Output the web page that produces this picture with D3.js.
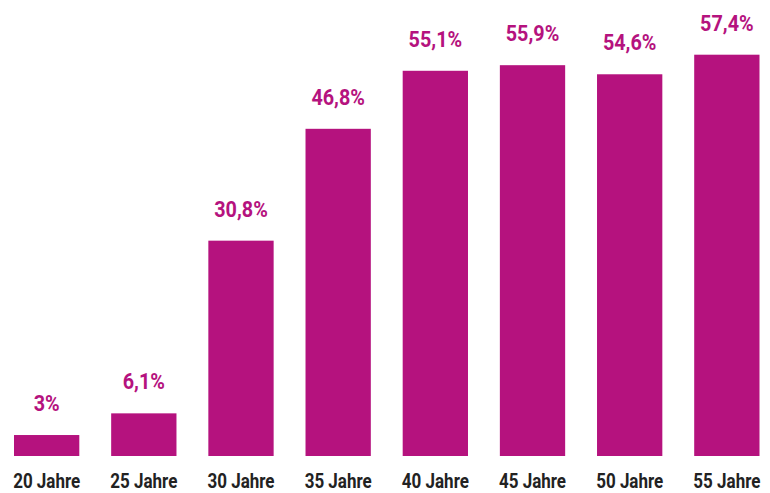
<!DOCTYPE html>
<html>
<head>
<meta charset="utf-8">
<script src="https://cdn.jsdelivr.net/npm/d3@7"></script>
<style>
	body { margin: 0; background: #fff; }
	svg text { font-family: Roboto, "Open Sans", sans-serif; font-weight: bold; }
</style>
</head>
<body>
<div id="chart"></div>
<script>
// ages on the x axis and share in percent
const ages = ["20 Jahre", "25 Jahre", "30 Jahre", "35 Jahre", "40 Jahre", "45 Jahre", "50 Jahre", "55 Jahre"]
const values = [3, 6.1, 30.8, 46.8, 55.1, 55.9, 54.6, 57.4]

const width = 770
const height = 493
const magenta = "#b5127e"

const svg = d3.select("#chart")
	.append("svg")
	.attr("width", width)
	.attr("height", height)

const data = ages.map((a, i) => ({age: a, value: values[i]}))

const x = d3.scaleBand()
	.domain(ages)
	.range([14, 759.5])
	.paddingInner(0.328)
	.paddingOuter(0)

const y = d3.scaleLinear()
	.domain([0, 57.4])
	.range([456, 54.7])

// format like "55,1%"
function fmt(v){
	return String(v).replace(".", ",") + "%"
}

svg.selectAll(".bar")
	.data(data)
	.enter().append("rect")
	.attr("class", "bar")
	.attr("x", d => x(d.age))
	.attr("y", d => y(d.value))
	.attr("width", x.bandwidth())
	.attr("height", d => y(0) - y(d.value))
	.attr("fill", magenta)

// value labels, squeezed a little to look like a condensed face
svg.selectAll(".val")
	.data(data)
	.enter().append("text")
	.attr("class", "val")
	.attr("transform", d => "translate(" + (x(d.age) + x.bandwidth() / 2) + "," + (y(d.value) - 24) + ") scale(0.9,1)")
	.attr("text-anchor", "middle")
	.attr("fill", magenta)
	.style("font-size", "22px")
	.text(d => fmt(d.value))

// category labels under the bars
const axis = d3.axisBottom(x).tickSize(0).tickPadding(0)
const g = svg.append("g")
	.attr("transform", "translate(0,474)")
	.call(axis)
g.select(".domain").remove()
g.selectAll("text")
	.attr("dy", null)
	.attr("y", 0)
	.attr("transform", "translate(0,14) scale(0.85,1)")
	.attr("fill", "#222")
	.style("font-size", "20px")
	.style("font-family", "Roboto, sans-serif")
	.style("font-weight", "bold")
</script>
</body>
</html>
